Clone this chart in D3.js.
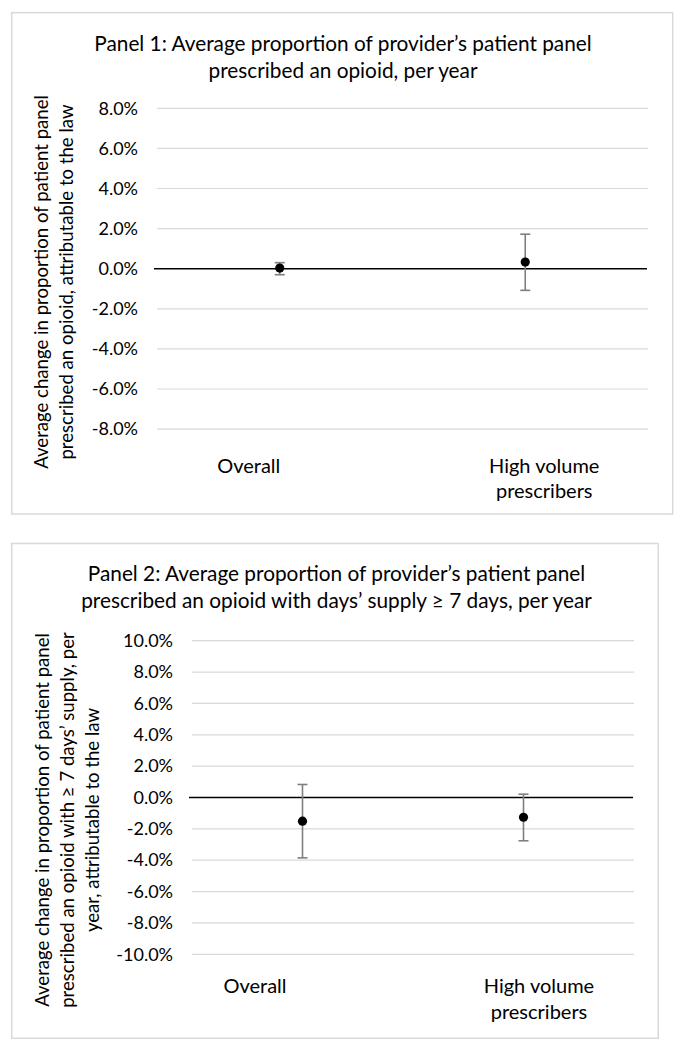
<!DOCTYPE html>
<html>
<head>
<meta charset="utf-8">
<script src="https://cdn.jsdelivr.net/npm/d3@7"></script>
<style>
  html, body { margin: 0; padding: 0; background: #ffffff; }
  svg { display: block; }
  text { font-family: Lato, "Open Sans", sans-serif; fill: #000; }
</style>
</head>
<body>
<svg id="chart" width="686" height="1050"></svg>
<script>
// ---------- data ----------
const categories = ["Overall", "High volume prescribers"];
const categoryLines = [["Overall"], ["High volume", "prescribers"]];

// Panel 1 (percent)
const p1Title = ["Panel 1: Average proportion of provider\u2019s patient panel", "prescribed an opioid, per year"];
const p1YTitle = ["Average change in proportion of patient panel", "prescribed an opioid, attributable to the law"];
const p1Estimate = [0.03, 0.33];
const p1Lower = [-0.30, -1.08];
const p1Upper = [0.30, 1.72];
const p1Ticks = [-8, -6, -4, -2, 0, 2, 4, 6, 8];

// Panel 2 (percent)
const p2Title = ["Panel 2: Average proportion of provider\u2019s patient panel", "prescribed an opioid with days\u2019 supply \u2265 7 days, per year"];
const p2YTitle = ["Average change in proportion of patient panel", "prescribed an opioid with \u2265 7 days\u2019 supply, per", "year, attributable to the law"];
const p2Estimate = [-1.51, -1.26];
const p2Lower = [-3.85, -2.76];
const p2Upper = [0.83, 0.21];
const p2Ticks = [-10, -8, -6, -4, -2, 0, 2, 4, 6, 8, 10];

// ---------- layout ----------
const panels = [
  {
    title: p1Title, yTitle: p1YTitle, est: p1Estimate, lo: p1Lower, hi: p1Upper, ticks: p1Ticks,
    box: { x: 11.7, y: 12.7, w: 661, h: 501.3 },
    plot: { x0: 157, x1: 648, yTop: 108.3, yBot: 429.1 },
    titleX: 343, titleY: [51, 78],
    yTitleCY: 282, yTitleX: [48, 73],
    labelY: 473, labelLH: 25, labelShift: [-31, 19]
  },
  {
    title: p2Title, yTitle: p2YTitle, est: p2Estimate, lo: p2Lower, hi: p2Upper, ticks: p2Ticks,
    box: { x: 11.7, y: 543.5, w: 646.6, h: 494.8 },
    plot: { x0: 192, x1: 634, yTop: 640.7, yBot: 954.3 },
    titleX: 336.5, titleY: [581, 608],
    yTitleCY: 820, yTitleX: [48.5, 73.5, 98.5],
    labelY: 993, labelLH: 26, labelShift: [-47.5, 15.5]
  }
];

const FONT_TITLE = 20.8, FONT_TICK = 18, FONT_CAT = 20, FONT_YTITLE = 18.6;

const svg = d3.select("#chart");

panels.forEach(p => {
  const g = svg.append("g");

  // frame
  g.append("rect")
    .attr("x", p.box.x).attr("y", p.box.y)
    .attr("width", p.box.w).attr("height", p.box.h)
    .attr("fill", "#fff").attr("stroke", "#d9d9d9").attr("stroke-width", 1.5);

  const yMin = d3.min(p.ticks), yMax = d3.max(p.ticks);
  const y = d3.scaleLinear().domain([yMin, yMax]).range([p.plot.yBot, p.plot.yTop]);
  const x = d3.scaleBand().domain(categories).range([p.plot.x0, p.plot.x1]).padding(0);
  const cx = c => x(c) + x.bandwidth() / 2;

  // gridlines
  g.append("g").selectAll("line").data(p.ticks.filter(t => t !== 0)).join("line")
    .attr("x1", p.plot.x0).attr("x2", p.plot.x1)
    .attr("y1", d => y(d)).attr("y2", d => y(d))
    .attr("stroke", "#d9d9d9").attr("stroke-width", 1.2);

  // y axis labels
  const yAxis = d3.axisLeft(y).tickValues(p.ticks).tickSize(0).tickPadding(19)
    .tickFormat(d => d3.format(".1f")(d).replace("\u2212", "-") + "%");
  const ya = g.append("g").attr("transform", `translate(${p.plot.x0},0)`).call(yAxis);
  ya.select(".domain").remove();
  ya.selectAll("text").attr("font-family", "Lato, 'Open Sans', sans-serif")
    .attr("font-size", FONT_TICK).attr("fill", "#000");

  // zero axis line
  g.append("line")
    .attr("x1", p.plot.x0 - 3).attr("x2", p.plot.x1 - 1)
    .attr("y1", y(0)).attr("y2", y(0))
    .attr("stroke", "#000").attr("stroke-width", 1.4);

  // error bars
  const rows = categories.map((c, i) => ({ c, est: p.est[i], lo: p.lo[i], hi: p.hi[i] }));
  const eb = g.append("g").attr("stroke", "#7f7f7f").attr("stroke-width", 1.6);
  eb.selectAll("line.v").data(rows).join("line").attr("class", "v")
    .attr("x1", d => cx(d.c)).attr("x2", d => cx(d.c))
    .attr("y1", d => y(d.lo)).attr("y2", d => y(d.hi));
  eb.selectAll("line.t").data(rows).join("line").attr("class", "t")
    .attr("x1", d => cx(d.c) - 5).attr("x2", d => cx(d.c) + 5)
    .attr("y1", d => y(d.hi)).attr("y2", d => y(d.hi));
  eb.selectAll("line.b").data(rows).join("line").attr("class", "b")
    .attr("x1", d => cx(d.c) - 5).attr("x2", d => cx(d.c) + 5)
    .attr("y1", d => y(d.lo)).attr("y2", d => y(d.lo));

  // points
  g.append("g").selectAll("circle").data(rows).join("circle")
    .attr("cx", d => cx(d.c)).attr("cy", d => y(d.est))
    .attr("r", 4.6).attr("fill", "#000");

  // category labels
  categories.forEach((c, i) => {
    const t = g.append("text").attr("text-anchor", "middle").attr("font-size", FONT_CAT);
    categoryLines[i].forEach((line, j) => {
      t.append("tspan").attr("x", cx(c) + p.labelShift[i]).attr("y", p.labelY + j * p.labelLH).text(line);
    });
  });

  // chart title
  const tt = g.append("text").attr("text-anchor", "middle").attr("font-size", FONT_TITLE);
  p.title.forEach((line, j) => {
    tt.append("tspan").attr("x", p.titleX).attr("y", p.titleY[j]).text(line);
  });

  // y title (rotated)
  p.yTitle.forEach((line, j) => {
    g.append("text")
      .attr("transform", `translate(${p.yTitleX[j]},${p.yTitleCY}) rotate(-90)`)
      .attr("text-anchor", "middle").attr("font-size", FONT_YTITLE)
      .text(line);
  });
});
</script>
</body>
</html>
